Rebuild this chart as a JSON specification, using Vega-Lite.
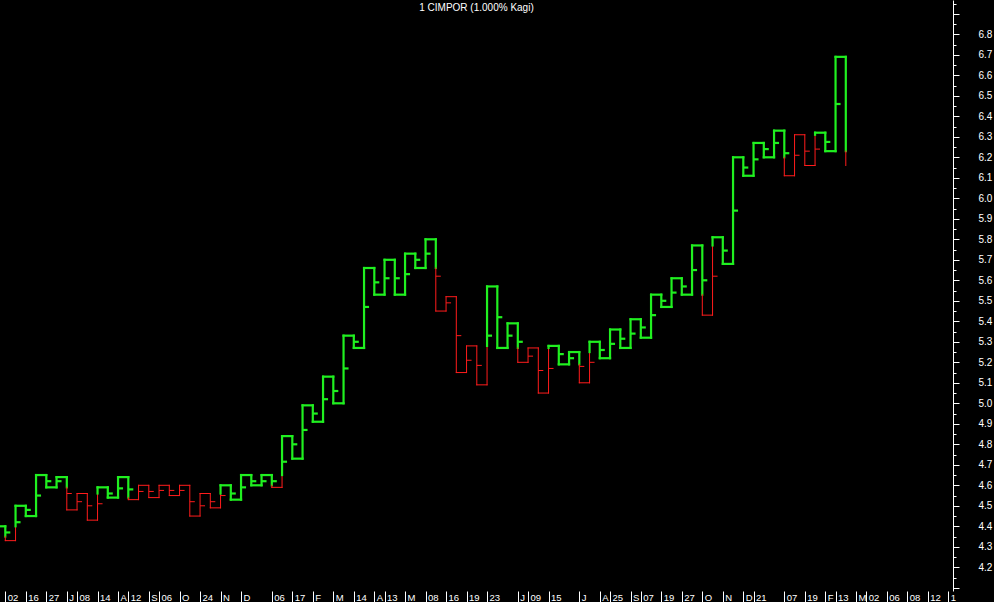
{
  "$schema": "https://vega.github.io/schema/vega-lite/v6.json",
  "autosize": {"type": "none"},
  "padding": {"left": 0, "top": 0, "right": 41, "bottom": 11},
  "width": 953,
  "height": 591,
  "background": "black",
  "config": {"view": {"stroke": null}},
  "title": {"text": "1 CIMPOR (1.000% Kagi)", "color": "white", "font": "Liberation Sans", "fontSize": 10, "fontWeight": "normal", "offset": -22, "baseline": "alphabetic", "anchor": "middle"},
  "datasets": {
    "seg": [
      {"c":-1,"c2":0,"p":4.40,"p2":4.40,"k":"g"},
      {"c":0,"c2":0,"p":4.40,"p2":4.35,"k":"g"},{"c":0,"c2":0,"p":4.35,"p2":4.33,"k":"r"},
      {"c":0,"c2":1,"p":4.33,"p2":4.33,"k":"r"},
      {"c":1,"c2":1,"p":4.33,"p2":4.40,"k":"r"},{"c":1,"c2":1,"p":4.40,"p2":4.50,"k":"g"},
      {"c":1,"c2":2,"p":4.50,"p2":4.50,"k":"g"},
      {"c":2,"c2":2,"p":4.50,"p2":4.45,"k":"g"},
      {"c":2,"c2":3,"p":4.45,"p2":4.45,"k":"g"},
      {"c":3,"c2":3,"p":4.45,"p2":4.65,"k":"g"},
      {"c":3,"c2":4,"p":4.65,"p2":4.65,"k":"g"},
      {"c":4,"c2":4,"p":4.65,"p2":4.59,"k":"g"},
      {"c":4,"c2":5,"p":4.59,"p2":4.59,"k":"g"},
      {"c":5,"c2":5,"p":4.59,"p2":4.64,"k":"g"},
      {"c":5,"c2":6,"p":4.64,"p2":4.64,"k":"g"},
      {"c":6,"c2":6,"p":4.64,"p2":4.59,"k":"g"},{"c":6,"c2":6,"p":4.59,"p2":4.48,"k":"r"},
      {"c":6,"c2":7,"p":4.48,"p2":4.48,"k":"r"},
      {"c":7,"c2":7,"p":4.48,"p2":4.56,"k":"r"},
      {"c":7,"c2":8,"p":4.56,"p2":4.56,"k":"r"},
      {"c":8,"c2":8,"p":4.56,"p2":4.43,"k":"r"},
      {"c":8,"c2":9,"p":4.43,"p2":4.43,"k":"r"},
      {"c":9,"c2":9,"p":4.43,"p2":4.56,"k":"r"},{"c":9,"c2":9,"p":4.56,"p2":4.59,"k":"g"},
      {"c":9,"c2":10,"p":4.59,"p2":4.59,"k":"g"},
      {"c":10,"c2":10,"p":4.59,"p2":4.54,"k":"g"},
      {"c":10,"c2":11,"p":4.54,"p2":4.54,"k":"g"},
      {"c":11,"c2":11,"p":4.54,"p2":4.64,"k":"g"},
      {"c":11,"c2":12,"p":4.64,"p2":4.64,"k":"g"},
      {"c":12,"c2":12,"p":4.64,"p2":4.54,"k":"g"},{"c":12,"c2":12,"p":4.54,"p2":4.53,"k":"r"},
      {"c":12,"c2":13,"p":4.53,"p2":4.53,"k":"r"},
      {"c":13,"c2":13,"p":4.53,"p2":4.60,"k":"r"},
      {"c":13,"c2":14,"p":4.60,"p2":4.60,"k":"r"},
      {"c":14,"c2":14,"p":4.60,"p2":4.54,"k":"r"},
      {"c":14,"c2":15,"p":4.54,"p2":4.54,"k":"r"},
      {"c":15,"c2":15,"p":4.54,"p2":4.60,"k":"r"},
      {"c":15,"c2":16,"p":4.60,"p2":4.60,"k":"r"},
      {"c":16,"c2":16,"p":4.60,"p2":4.55,"k":"r"},
      {"c":16,"c2":17,"p":4.55,"p2":4.55,"k":"r"},
      {"c":17,"c2":17,"p":4.55,"p2":4.60,"k":"r"},
      {"c":17,"c2":18,"p":4.60,"p2":4.60,"k":"r"},
      {"c":18,"c2":18,"p":4.60,"p2":4.45,"k":"r"},
      {"c":18,"c2":19,"p":4.45,"p2":4.45,"k":"r"},
      {"c":19,"c2":19,"p":4.45,"p2":4.56,"k":"r"},
      {"c":19,"c2":20,"p":4.56,"p2":4.56,"k":"r"},
      {"c":20,"c2":20,"p":4.56,"p2":4.49,"k":"r"},
      {"c":20,"c2":21,"p":4.49,"p2":4.49,"k":"r"},
      {"c":21,"c2":21,"p":4.49,"p2":4.56,"k":"r"},{"c":21,"c2":21,"p":4.56,"p2":4.60,"k":"g"},
      {"c":21,"c2":22,"p":4.60,"p2":4.60,"k":"g"},
      {"c":22,"c2":22,"p":4.60,"p2":4.53,"k":"g"},
      {"c":22,"c2":23,"p":4.53,"p2":4.53,"k":"g"},
      {"c":23,"c2":23,"p":4.53,"p2":4.65,"k":"g"},
      {"c":23,"c2":24,"p":4.65,"p2":4.65,"k":"g"},
      {"c":24,"c2":24,"p":4.65,"p2":4.60,"k":"g"},
      {"c":24,"c2":25,"p":4.60,"p2":4.60,"k":"g"},
      {"c":25,"c2":25,"p":4.60,"p2":4.65,"k":"g"},
      {"c":25,"c2":26,"p":4.65,"p2":4.65,"k":"g"},
      {"c":26,"c2":26,"p":4.65,"p2":4.60,"k":"g"},{"c":26,"c2":26,"p":4.60,"p2":4.59,"k":"r"},
      {"c":26,"c2":27,"p":4.59,"p2":4.59,"k":"r"},
      {"c":27,"c2":27,"p":4.59,"p2":4.65,"k":"r"},{"c":27,"c2":27,"p":4.65,"p2":4.84,"k":"g"},
      {"c":27,"c2":28,"p":4.84,"p2":4.84,"k":"g"},
      {"c":28,"c2":28,"p":4.84,"p2":4.73,"k":"g"},
      {"c":28,"c2":29,"p":4.73,"p2":4.73,"k":"g"},
      {"c":29,"c2":29,"p":4.73,"p2":4.99,"k":"g"},
      {"c":29,"c2":30,"p":4.99,"p2":4.99,"k":"g"},
      {"c":30,"c2":30,"p":4.99,"p2":4.91,"k":"g"},
      {"c":30,"c2":31,"p":4.91,"p2":4.91,"k":"g"},
      {"c":31,"c2":31,"p":4.91,"p2":5.13,"k":"g"},
      {"c":31,"c2":32,"p":5.13,"p2":5.13,"k":"g"},
      {"c":32,"c2":32,"p":5.13,"p2":5.00,"k":"g"},
      {"c":32,"c2":33,"p":5.00,"p2":5.00,"k":"g"},
      {"c":33,"c2":33,"p":5.00,"p2":5.33,"k":"g"},
      {"c":33,"c2":34,"p":5.33,"p2":5.33,"k":"g"},
      {"c":34,"c2":34,"p":5.33,"p2":5.27,"k":"g"},
      {"c":34,"c2":35,"p":5.27,"p2":5.27,"k":"g"},
      {"c":35,"c2":35,"p":5.27,"p2":5.66,"k":"g"},
      {"c":35,"c2":36,"p":5.66,"p2":5.66,"k":"g"},
      {"c":36,"c2":36,"p":5.66,"p2":5.53,"k":"g"},
      {"c":36,"c2":37,"p":5.53,"p2":5.53,"k":"g"},
      {"c":37,"c2":37,"p":5.53,"p2":5.70,"k":"g"},
      {"c":37,"c2":38,"p":5.70,"p2":5.70,"k":"g"},
      {"c":38,"c2":38,"p":5.70,"p2":5.53,"k":"g"},
      {"c":38,"c2":39,"p":5.53,"p2":5.53,"k":"g"},
      {"c":39,"c2":39,"p":5.53,"p2":5.73,"k":"g"},
      {"c":39,"c2":40,"p":5.73,"p2":5.73,"k":"g"},
      {"c":40,"c2":40,"p":5.73,"p2":5.66,"k":"g"},
      {"c":40,"c2":41,"p":5.66,"p2":5.66,"k":"g"},
      {"c":41,"c2":41,"p":5.66,"p2":5.80,"k":"g"},
      {"c":41,"c2":42,"p":5.80,"p2":5.80,"k":"g"},
      {"c":42,"c2":42,"p":5.80,"p2":5.66,"k":"g"},{"c":42,"c2":42,"p":5.66,"p2":5.45,"k":"r"},
      {"c":42,"c2":43,"p":5.45,"p2":5.45,"k":"r"},
      {"c":43,"c2":43,"p":5.45,"p2":5.52,"k":"r"},
      {"c":43,"c2":44,"p":5.52,"p2":5.52,"k":"r"},
      {"c":44,"c2":44,"p":5.52,"p2":5.15,"k":"r"},
      {"c":44,"c2":45,"p":5.15,"p2":5.15,"k":"r"},
      {"c":45,"c2":45,"p":5.15,"p2":5.28,"k":"r"},
      {"c":45,"c2":46,"p":5.28,"p2":5.28,"k":"r"},
      {"c":46,"c2":46,"p":5.28,"p2":5.09,"k":"r"},
      {"c":46,"c2":47,"p":5.09,"p2":5.09,"k":"r"},
      {"c":47,"c2":47,"p":5.09,"p2":5.28,"k":"r"},{"c":47,"c2":47,"p":5.28,"p2":5.57,"k":"g"},
      {"c":47,"c2":48,"p":5.57,"p2":5.57,"k":"g"},
      {"c":48,"c2":48,"p":5.57,"p2":5.27,"k":"g"},
      {"c":48,"c2":49,"p":5.27,"p2":5.27,"k":"g"},
      {"c":49,"c2":49,"p":5.27,"p2":5.39,"k":"g"},
      {"c":49,"c2":50,"p":5.39,"p2":5.39,"k":"g"},
      {"c":50,"c2":50,"p":5.39,"p2":5.27,"k":"g"},{"c":50,"c2":50,"p":5.27,"p2":5.20,"k":"r"},
      {"c":50,"c2":51,"p":5.20,"p2":5.20,"k":"r"},
      {"c":51,"c2":51,"p":5.20,"p2":5.27,"k":"r"},
      {"c":51,"c2":52,"p":5.27,"p2":5.27,"k":"r"},
      {"c":52,"c2":52,"p":5.27,"p2":5.05,"k":"r"},
      {"c":52,"c2":53,"p":5.05,"p2":5.05,"k":"r"},
      {"c":53,"c2":53,"p":5.05,"p2":5.27,"k":"r"},{"c":53,"c2":53,"p":5.27,"p2":5.28,"k":"g"},
      {"c":53,"c2":54,"p":5.28,"p2":5.28,"k":"g"},
      {"c":54,"c2":54,"p":5.28,"p2":5.19,"k":"g"},
      {"c":54,"c2":55,"p":5.19,"p2":5.19,"k":"g"},
      {"c":55,"c2":55,"p":5.19,"p2":5.25,"k":"g"},
      {"c":55,"c2":56,"p":5.25,"p2":5.25,"k":"g"},
      {"c":56,"c2":56,"p":5.25,"p2":5.19,"k":"g"},{"c":56,"c2":56,"p":5.19,"p2":5.10,"k":"r"},
      {"c":56,"c2":57,"p":5.10,"p2":5.10,"k":"r"},
      {"c":57,"c2":57,"p":5.10,"p2":5.25,"k":"r"},{"c":57,"c2":57,"p":5.25,"p2":5.30,"k":"g"},
      {"c":57,"c2":58,"p":5.30,"p2":5.30,"k":"g"},
      {"c":58,"c2":58,"p":5.30,"p2":5.22,"k":"g"},
      {"c":58,"c2":59,"p":5.22,"p2":5.22,"k":"g"},
      {"c":59,"c2":59,"p":5.22,"p2":5.36,"k":"g"},
      {"c":59,"c2":60,"p":5.36,"p2":5.36,"k":"g"},
      {"c":60,"c2":60,"p":5.36,"p2":5.27,"k":"g"},
      {"c":60,"c2":61,"p":5.27,"p2":5.27,"k":"g"},
      {"c":61,"c2":61,"p":5.27,"p2":5.41,"k":"g"},
      {"c":61,"c2":62,"p":5.41,"p2":5.41,"k":"g"},
      {"c":62,"c2":62,"p":5.41,"p2":5.32,"k":"g"},
      {"c":62,"c2":63,"p":5.32,"p2":5.32,"k":"g"},
      {"c":63,"c2":63,"p":5.32,"p2":5.53,"k":"g"},
      {"c":63,"c2":64,"p":5.53,"p2":5.53,"k":"g"},
      {"c":64,"c2":64,"p":5.53,"p2":5.47,"k":"g"},
      {"c":64,"c2":65,"p":5.47,"p2":5.47,"k":"g"},
      {"c":65,"c2":65,"p":5.47,"p2":5.61,"k":"g"},
      {"c":65,"c2":66,"p":5.61,"p2":5.61,"k":"g"},
      {"c":66,"c2":66,"p":5.61,"p2":5.53,"k":"g"},
      {"c":66,"c2":67,"p":5.53,"p2":5.53,"k":"g"},
      {"c":67,"c2":67,"p":5.53,"p2":5.77,"k":"g"},
      {"c":67,"c2":68,"p":5.77,"p2":5.77,"k":"g"},
      {"c":68,"c2":68,"p":5.77,"p2":5.53,"k":"g"},{"c":68,"c2":68,"p":5.53,"p2":5.43,"k":"r"},
      {"c":68,"c2":69,"p":5.43,"p2":5.43,"k":"r"},
      {"c":69,"c2":69,"p":5.43,"p2":5.77,"k":"r"},{"c":69,"c2":69,"p":5.77,"p2":5.81,"k":"g"},
      {"c":69,"c2":70,"p":5.81,"p2":5.81,"k":"g"},
      {"c":70,"c2":70,"p":5.81,"p2":5.68,"k":"g"},
      {"c":70,"c2":71,"p":5.68,"p2":5.68,"k":"g"},
      {"c":71,"c2":71,"p":5.68,"p2":6.20,"k":"g"},
      {"c":71,"c2":72,"p":6.20,"p2":6.20,"k":"g"},
      {"c":72,"c2":72,"p":6.20,"p2":6.11,"k":"g"},
      {"c":72,"c2":73,"p":6.11,"p2":6.11,"k":"g"},
      {"c":73,"c2":73,"p":6.11,"p2":6.27,"k":"g"},
      {"c":73,"c2":74,"p":6.27,"p2":6.27,"k":"g"},
      {"c":74,"c2":74,"p":6.27,"p2":6.20,"k":"g"},
      {"c":74,"c2":75,"p":6.20,"p2":6.20,"k":"g"},
      {"c":75,"c2":75,"p":6.20,"p2":6.33,"k":"g"},
      {"c":75,"c2":76,"p":6.33,"p2":6.33,"k":"g"},
      {"c":76,"c2":76,"p":6.33,"p2":6.20,"k":"g"},{"c":76,"c2":76,"p":6.20,"p2":6.11,"k":"r"},
      {"c":76,"c2":77,"p":6.11,"p2":6.11,"k":"r"},
      {"c":77,"c2":77,"p":6.11,"p2":6.31,"k":"r"},
      {"c":77,"c2":78,"p":6.31,"p2":6.31,"k":"r"},
      {"c":78,"c2":78,"p":6.31,"p2":6.16,"k":"r"},
      {"c":78,"c2":79,"p":6.16,"p2":6.16,"k":"r"},
      {"c":79,"c2":79,"p":6.16,"p2":6.31,"k":"r"},{"c":79,"c2":79,"p":6.31,"p2":6.32,"k":"g"},
      {"c":79,"c2":80,"p":6.32,"p2":6.32,"k":"g"},
      {"c":80,"c2":80,"p":6.32,"p2":6.23,"k":"g"},
      {"c":80,"c2":81,"p":6.23,"p2":6.23,"k":"g"},
      {"c":81,"c2":81,"p":6.23,"p2":6.69,"k":"g"},
      {"c":81,"c2":82,"p":6.69,"p2":6.69,"k":"g"},
      {"c":82,"c2":82,"p":6.69,"p2":6.23,"k":"g"},{"c":82,"c2":82,"p":6.23,"p2":6.16,"k":"r"}
    ],
    "tk": [
      {"c":0,"p":4.37,"k":"g"},{"c":1,"p":4.42,"k":"g"},{"c":2,"p":4.48,"k":"g"},{"c":3,"p":4.55,"k":"g"},
      {"c":4,"p":4.62,"k":"g"},{"c":5,"p":4.62,"k":"g"},{"c":6,"p":4.56,"k":"r"},{"c":7,"p":4.52,"k":"r"},
      {"c":8,"p":4.50,"k":"r"},{"c":9,"p":4.51,"k":"r"},{"c":10,"p":4.56,"k":"g"},{"c":11,"p":4.585,"k":"g"},
      {"c":12,"p":4.58,"k":"g"},{"c":13,"p":4.57,"k":"r"},{"c":14,"p":4.57,"k":"r"},{"c":15,"p":4.575,"k":"r"},
      {"c":16,"p":4.575,"k":"r"},{"c":17,"p":4.575,"k":"r"},{"c":18,"p":4.52,"k":"r"},{"c":19,"p":4.50,"k":"r"},
      {"c":20,"p":4.52,"k":"r"},{"c":21,"p":4.55,"k":"r"},{"c":22,"p":4.56,"k":"g"},{"c":23,"p":4.59,"k":"g"},
      {"c":24,"p":4.62,"k":"g"},{"c":25,"p":4.62,"k":"g"},{"c":26,"p":4.62,"k":"g"},{"c":27,"p":4.715,"k":"g"},
      {"c":28,"p":4.80,"k":"g"},{"c":29,"p":4.87,"k":"g"},{"c":30,"p":4.95,"k":"g"},{"c":31,"p":5.02,"k":"g"},
      {"c":32,"p":5.06,"k":"g"},{"c":33,"p":5.17,"k":"g"},{"c":34,"p":5.30,"k":"g"},{"c":35,"p":5.47,"k":"g"},
      {"c":36,"p":5.59,"k":"g"},{"c":37,"p":5.61,"k":"g"},{"c":38,"p":5.61,"k":"g"},{"c":39,"p":5.63,"k":"g"},
      {"c":40,"p":5.70,"k":"g"},{"c":41,"p":5.73,"k":"g"},{"c":42,"p":5.62,"k":"r"},{"c":43,"p":5.49,"k":"r"},
      {"c":44,"p":5.33,"k":"r"},{"c":45,"p":5.21,"k":"r"},{"c":46,"p":5.185,"k":"r"},{"c":47,"p":5.33,"k":"g"},
      {"c":48,"p":5.42,"k":"g"},{"c":49,"p":5.33,"k":"g"},{"c":50,"p":5.30,"k":"g"},{"c":51,"p":5.23,"k":"r"},
      {"c":52,"p":5.16,"k":"r"},{"c":53,"p":5.17,"k":"r"},{"c":54,"p":5.24,"k":"g"},{"c":55,"p":5.22,"k":"g"},
      {"c":56,"p":5.18,"k":"r"},{"c":57,"p":5.20,"k":"r"},{"c":58,"p":5.26,"k":"g"},{"c":59,"p":5.29,"k":"g"},
      {"c":60,"p":5.315,"k":"g"},{"c":61,"p":5.34,"k":"g"},{"c":62,"p":5.37,"k":"g"},{"c":63,"p":5.43,"k":"g"},
      {"c":64,"p":5.50,"k":"g"},{"c":65,"p":5.54,"k":"g"},{"c":66,"p":5.57,"k":"g"},{"c":67,"p":5.65,"k":"g"},
      {"c":68,"p":5.60,"k":"g"},{"c":69,"p":5.62,"k":"r"},{"c":70,"p":5.745,"k":"g"},{"c":71,"p":5.94,"k":"g"},
      {"c":72,"p":6.15,"k":"g"},{"c":73,"p":6.19,"k":"g"},{"c":74,"p":6.24,"k":"g"},{"c":75,"p":6.27,"k":"g"},
      {"c":76,"p":6.22,"k":"g"},{"c":77,"p":6.21,"k":"r"},{"c":78,"p":6.23,"k":"r"},{"c":79,"p":6.24,"k":"r"},
      {"c":80,"p":6.275,"k":"g"},{"c":81,"p":6.46,"k":"g"}
    ]
  },
  "encoding": {
    "x": {
      "field": "c", "type": "quantitative",
      "scale": {"domain": [-0.5171, 92.4585], "nice": false, "zero": false},
      "axis": {
        "orient": "bottom", "title": null, "grid": false, "domain": false,
        "values": [0,2,4,6,7,9,11,12,14,15,17,19,21,23,26,28,30,32,34,36,37,39,41,43,45,47,50,51,53,56,58,59,61,62,64,66,68,70,72,73,76,78,80,81,83,84,86,88,90,92],
        "labelExpr": "['02','16','27','J','08','14','A','12','S','06','O','24','N','D','06','17','F','M','14','A','13','M','08','16','19','23','J','09','15','J','A','25','S','07','19','27','O','N','D','21','07','19','F','13','M','02','06','08','12','1'][indexof([0,2,4,6,7,9,11,12,14,15,17,19,21,23,26,28,30,32,34,36,37,39,41,43,45,47,50,51,53,56,58,59,61,62,64,66,68,70,72,73,76,78,80,81,83,84,86,88,90,92], datum.value)]",
        "tickColor": "white", "tickSize": 11, "tickWidth": 1,
        "labelAlign": "left", "labelOffset": 2, "labelBaseline": "alphabetic", "labelPadding": -1.5,
        "labelColor": "white", "labelFont": "Liberation Sans", "labelFontSize": 9.5,
        "labelOverlap": false, "labelFlush": false, "labelBound": false
      }
    },
    "y": {
      "field": "p", "type": "quantitative",
      "scale": {"domain": [4.08439, 6.96732], "nice": false, "zero": false},
      "axis": {
        "orient": "right", "title": null, "grid": false,
        "values": [4.1,4.15,4.2,4.25,4.3,4.35,4.4,4.45,4.5,4.55,4.6,4.65,4.7,4.75,4.8,4.85,4.9,4.95,5.0,5.05,5.1,5.15,5.2,5.25,5.3,5.35,5.4,5.45,5.5,5.55,5.6,5.65,5.7,5.75,5.8,5.85,5.9,5.95,6.0,6.05,6.1,6.15,6.2,6.25,6.3,6.35,6.4,6.45,6.5,6.55,6.6,6.65,6.7,6.75,6.8,6.85,6.9,6.95],
        "labelExpr": "abs(datum.value*10-round(datum.value*10))<0.01 && datum.value>4.15 && datum.value<6.85 ? format(datum.value,'.1f') : ''",
        "domainColor": "white", "domainWidth": 1,
        "tickColor": "white", "tickWidth": 1,
        "tickSize": {"condition": {"test": "abs(datum.value*10-round(datum.value*10))<0.01", "value": 6}, "value": 3},
        "labelColor": "white", "labelFont": "Liberation Sans", "labelFontSize": 10, "labelPadding": 19,
        "labelOverlap": false, "labelFlush": false, "labelBound": false
      }
    },
    "color": {"field": "k", "type": "nominal", "scale": {"domain": ["g", "r"], "range": ["#20f020", "#ff1c1c"]}, "legend": null},
    "strokeWidth": {"condition": {"test": "datum.k == 'g'", "value": 2.2}, "value": 1}
  },
  "layer": [
    {
      "data": {"name": "seg"},
      "mark": {"type": "rule", "clip": true, "strokeCap": "square"},
      "encoding": {
        "x2": {"field": "c2"},
        "y2": {"field": "p2"}
      }
    },
    {
      "data": {"name": "tk"},
      "mark": {"type": "rule", "clip": true, "x2Offset": 5},
      "encoding": {
        "x2": {"field": "c"}
      }
    }
  ]
}
